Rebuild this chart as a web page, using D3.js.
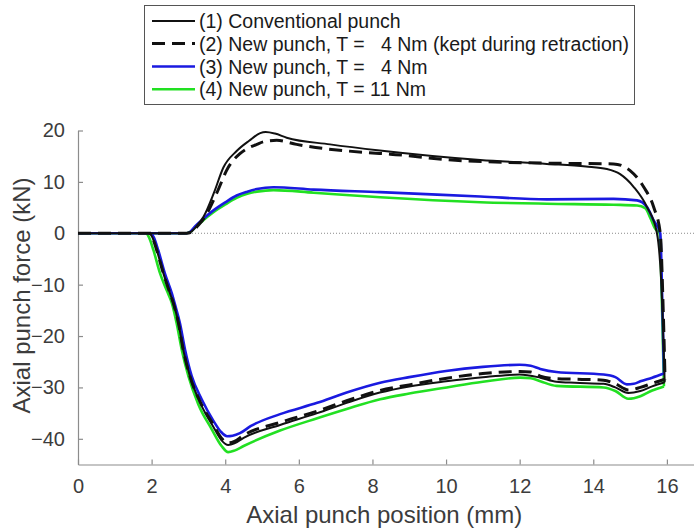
<!DOCTYPE html>
<html>
<head>
<meta charset="utf-8">
<script src="https://cdn.jsdelivr.net/npm/d3@7"></script>
<style>
  html, body { margin: 0; padding: 0; background: #fff; }
  svg { display: block; font-family: "Liberation Sans", Arial, sans-serif; }
</style>
</head>
<body>
<svg id="chart" width="694" height="532"></svg>
<script>
// Axial punch force vs. punch position: forward stroke (0 -> 16 mm) then retraction (16 -> 0 mm)

const seriesLabels = [
  "(1) Conventional punch",
  "(2) New punch, T =   4 Nm (kept during retraction)",
  "(3) New punch, T =   4 Nm",
  "(4) New punch, T = 11 Nm"
];

const xTicks = [0, 2, 4, 6, 8, 10, 12, 14, 16];
const yTicks = [20, 10, 0, -10, -20, -30, -40];

// (1) Conventional punch
const s1Pos = [0, 2.9, 3.05, 3.2, 3.41, 3.7, 3.95, 4.31, 4.65, 4.95, 5.1, 5.35, 5.67, 6.85, 8.2, 10.93, 12.74, 13.8, 14.37, 14.73, 15.1, 15.46, 15.73, 15.88, 15.94,
  15.6, 15.28, 14.95, 14.6, 14.28, 13.5, 13.0, 12.56, 12.0, 11.0, 10.0, 9.0, 8.2, 7.3, 6.5, 5.49, 4.5, 4.25, 4.08, 3.9, 3.68, 3.32, 3.04, 2.86, 2.73, 2.59, 2.5, 2.32, 2.14, 2.02, 1.93, 0];
const s1Force = [0, 0, 0.2, 1.2, 3.2, 8.0, 12.8, 16.0, 18.0, 19.5, 19.7, 19.4, 18.6, 17.3, 16.1, 14.25, 13.5, 13.0, 12.5, 11.5, 9.0, 5.1, 0, -15, -29.0,
  -29.8, -30.7, -31.1, -30.0, -29.3, -29.1, -28.9, -28.1, -27.5, -28.0, -28.8, -29.8, -31.0, -33.0, -35.0, -37.3, -39.8, -40.9, -41.2, -40.3, -37.7, -33.0, -27.8, -22.7, -17.5, -13.6, -11.7, -7.8, -3.3, -0.8, 0, 0];

// (2) New punch, T = 4 Nm, kept during retraction
const s2Pos = [0, 2.95, 3.1, 3.25, 3.45, 3.75, 4.08, 4.4, 4.58, 4.86, 5.04, 5.4, 5.94, 7.85, 8.48, 10.47, 13.2, 14.55, 15.0, 15.37, 15.64, 15.82, 15.9, 15.95,
  15.6, 15.28, 14.95, 14.6, 14.28, 13.5, 13.0, 12.56, 12.3, 12.01, 11.0, 10.02, 9.0, 8.21, 7.3, 6.5, 5.49, 4.5, 4.25, 4.08, 3.9, 3.68, 3.32, 3.04, 2.86, 2.73, 2.59, 2.5, 2.32, 2.14, 2.02, 1.93, 0];
const s2Force = [0, 0, 0.3, 1.4, 3.2, 7.5, 12.8, 15.5, 16.4, 17.3, 17.8, 18.1, 17.3, 15.7, 15.4, 14.1, 13.6, 13.5, 12.2, 9.0, 5.1, 0, -15, -28.4,
  -29.2, -30.0, -30.5, -29.3, -28.6, -28.4, -28.3, -27.8, -27.0, -26.9, -27.3, -28.2, -29.5, -30.6, -32.6, -34.6, -36.8, -39.3, -40.5, -40.8, -39.9, -37.3, -32.8, -27.8, -22.7, -17.5, -13.6, -11.7, -7.8, -3.3, -0.8, 0, 0];

// (3) New punch, T = 4 Nm
const s3Pos = [0, 2.95, 3.05, 3.2, 3.4, 3.68, 4.0, 4.31, 4.6, 4.86, 5.31, 6.4, 8.21, 10.93, 12.74, 14.55, 15.19, 15.46, 15.64, 15.82, 15.88, 15.92,
  15.6, 15.28, 15.1, 14.91, 14.6, 14.28, 13.0, 12.56, 12.3, 12.0, 11.0, 10.0, 9.0, 8.21, 7.3, 6.5, 5.49, 4.7, 4.4, 4.2, 4.05, 3.88, 3.68, 3.36, 3.09, 2.91, 2.77, 2.64, 2.55, 2.36, 2.18, 2.06, 1.97, 0];
const s3Force = [0, 0, 0.3, 1.5, 2.8, 4.45, 6.0, 7.35, 8.1, 8.6, 8.96, 8.5, 8.0, 7.15, 6.6, 6.7, 6.4, 5.1, 2.5, 0, -15, -27.3,
  -28.1, -28.8, -29.3, -29.4, -28.0, -27.5, -27.0, -26.4, -25.8, -25.6, -26.0, -26.8, -28.0, -29.1, -31.0, -33.0, -35.2, -37.5, -38.9, -39.4, -39.5, -38.6, -36.5, -32.3, -27.8, -22.7, -17.5, -14.0, -11.7, -7.8, -3.3, -0.8, 0, 0];

// (4) New punch, T = 11 Nm
const s4Pos = [0, 2.95, 3.05, 3.2, 3.4, 3.68, 4.0, 4.31, 4.6, 4.86, 5.31, 6.4, 8.21, 10.93, 12.74, 14.55, 15.19, 15.41, 15.55, 15.68, 15.8, 15.87, 15.92,
  15.6, 15.28, 15.1, 14.95, 14.6, 14.28, 13.0, 12.56, 12.3, 12.01, 11.0, 10.02, 9.0, 8.21, 7.3, 6.5, 5.49, 4.5, 4.25, 4.08, 3.9, 3.63, 3.27, 3.0, 2.82, 2.68, 2.55, 2.41, 2.23, 2.05, 1.93, 1.84, 0];
const s4Force = [0, 0, 0.25, 1.3, 2.5, 4.1, 5.6, 6.9, 7.7, 8.1, 8.4, 7.9, 7.0, 6.05, 5.75, 5.55, 5.4, 4.9, 3.0, 0.9, 0, -15, -29.8,
  -30.6, -31.7, -32.1, -32.2, -30.7, -30.0, -29.7, -28.8, -28.2, -28.1, -28.9, -30.0, -31.2, -32.3, -34.2, -36.0, -38.4, -41.4, -42.3, -42.6, -41.4, -38.1, -33.3, -27.8, -22.7, -17.5, -13.6, -11.1, -7.8, -3.3, -0.8, 0, 0];

const svg = d3.select("#chart");

const plotLeft = 78, plotRight = 694.5, plotTop = 130.5, plotBottom = 464.5;
const x = d3.scaleLinear().domain([0, 16.75]).range([plotLeft, plotRight]);
const y = d3.scaleLinear().domain([-45, 20]).range([plotBottom, plotTop]);

const axisColor = "#8c8c8c";
const textColor = "#3c3c3c";

// zero reference line
svg.append("line")
  .attr("x1", x(0)).attr("x2", plotRight)
  .attr("y1", y(0)).attr("y2", y(0))
  .attr("stroke", "#8a8a8a").attr("stroke-width", 1)
  .attr("stroke-dasharray", "1,2");

// axes
const xAxis = svg.append("g")
  .attr("transform", `translate(0,${plotBottom})`)
  .call(d3.axisBottom(x).tickValues(xTicks).tickSizeInner(-5).tickSizeOuter(0).tickPadding(14));
const yAxis = svg.append("g")
  .attr("transform", `translate(${plotLeft},0)`)
  .call(d3.axisLeft(y).tickValues(yTicks).tickSizeInner(-5).tickSizeOuter(0).tickPadding(13));

[xAxis, yAxis].forEach(g => {
  g.select(".domain").attr("stroke", axisColor).attr("stroke-width", 1.2);
  g.selectAll(".tick line").attr("stroke", axisColor).attr("stroke-width", 1.2);
  g.selectAll(".tick text")
    .attr("fill", textColor)
    .style("font-family", "'Liberation Sans', Arial, sans-serif")
    .style("font-size", "20px");
});

// axis titles
svg.append("text")
  .attr("x", (plotLeft + plotRight) / 2 - 2).attr("y", 523)
  .attr("text-anchor", "middle")
  .attr("fill", textColor)
  .style("font-size", "24px")
  .text("Axial punch position (mm)");

svg.append("text")
  .attr("transform", `translate(30,${(plotTop + plotBottom) / 2 - 2}) rotate(-90)`)
  .attr("text-anchor", "middle")
  .attr("fill", textColor)
  .style("font-size", "24px")
  .text("Axial punch force (kN)");

// curves: each series is split into its forward stroke and its retraction,
// both drawn with x increasing so a monotone curve can be used
const series = [
  { pos: s4Pos, force: s4Force, color: "#22e022", width: 2.6, dash: null },
  { pos: s3Pos, force: s3Force, color: "#1a1ae0", width: 2.6, dash: null },
  { pos: s1Pos, force: s1Force, color: "#111111", width: 2, dash: null },
  { pos: s2Pos, force: s2Force, color: "#111111", width: 3, dash: "13,7" }
];

const line = d3.line()
  .x(d => x(d[0]))
  .y(d => y(d[1]))
  .curve(d3.curveMonotoneX);

series.forEach(s => {
  const pts = s.pos.map((p, i) => [p, s.force[i]]);
  const turn = d3.maxIndex(s.pos);
  const forward = pts.slice(0, turn + 1);
  const retraction = pts.slice(turn).reverse();
  svg.append("path")
    .attr("d", line(forward) + line(retraction))
    .attr("fill", "none")
    .attr("stroke", s.color)
    .attr("stroke-width", s.width)
    .attr("stroke-linejoin", "round")
    .attr("stroke-dasharray", s.dash);
});

// legend
const legend = svg.append("g");
legend.append("rect")
  .attr("x", 144.5).attr("y", 5.5).attr("width", 490).attr("height", 99)
  .attr("fill", "#fff").attr("stroke", "#555").attr("stroke-width", 1);

const legendStyles = [
  { color: "#111111", width: 2, dash: null },
  { color: "#111111", width: 3, dash: "13,7" },
  { color: "#1a1ae0", width: 2.6, dash: null },
  { color: "#22e022", width: 2.6, dash: null }
];
const rowY = [21, 43.5, 66.5, 89.3];

seriesLabels.forEach((label, i) => {
  legend.append("line")
    .attr("x1", 152).attr("x2", 195)
    .attr("y1", rowY[i]).attr("y2", rowY[i])
    .attr("stroke", legendStyles[i].color)
    .attr("stroke-width", legendStyles[i].width)
    .attr("stroke-dasharray", legendStyles[i].dash);
  legend.append("text")
    .attr("x", 199).attr("y", rowY[i] + 7)
    .attr("fill", "#1a1a1a")
    .style("font-size", "19.5px")
    .style("white-space", "pre")
    .text(label);
});
</script>
</body>
</html>
